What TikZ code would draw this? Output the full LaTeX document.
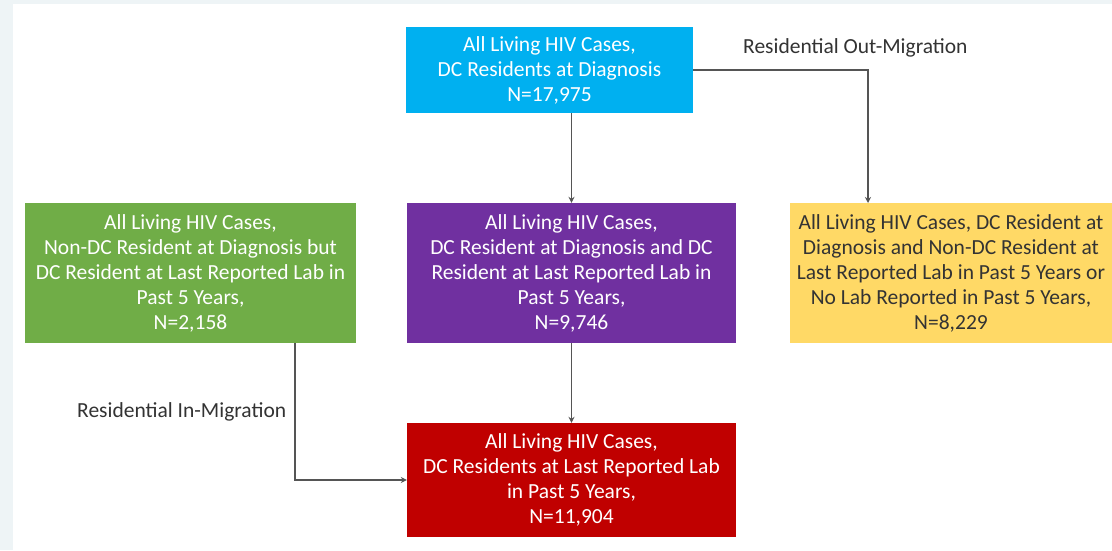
\documentclass[tikz,border=0pt]{standalone}
\usepackage{fontspec}
\setmainfont{Carlito}
\usetikzlibrary{arrows.meta}
\definecolor{cblue}{HTML}{00B0F0}
\definecolor{cgreen}{HTML}{70AD47}
\definecolor{cpurple}{HTML}{7030A0}
\definecolor{cyellow}{HTML}{FFD966}
\definecolor{cred}{HTML}{C00000}
\definecolor{ctext}{HTML}{333333}
\definecolor{cline}{HTML}{555555}
\definecolor{cbg}{HTML}{EEF4F6}
\tikzset{
  box/.style={rectangle, inner sep=0pt, align=center, text=white,
    font=\fontsize{21.5}{25}\selectfont},
  lbl/.style={inner sep=0pt, text=ctext, font=\fontsize{21.5}{25}\selectfont},
  conn/.style={draw=cline, line width=1.1pt, -{Stealth[length=6pt,width=6pt]}}
}
\begin{document}
\begin{tikzpicture}[x=1pt,y=-1pt]
\useasboundingbox (0,0) rectangle (1112,550);
\fill[white] (0,0) rectangle (1112,550);
\fill[cbg] (0,0) rectangle (13,550);
\fill[cbg] (0,0) rectangle (1112,4);

\node[box, fill=cblue, minimum width=287pt, minimum height=86pt] (blue) at (549.5,70)
  {All Living HIV Cases,\\DC Residents at Diagnosis\\N=17,975};
\node[box, fill=cpurple, minimum width=329pt, minimum height=140pt] (purple) at (571.5,273)
  {All Living HIV Cases,\\DC Resident at Diagnosis and DC\\Resident at Last Reported Lab in\\Past 5 Years,\\N=9,746};
\node[box, fill=cgreen, minimum width=331pt, minimum height=140pt] (green) at (190.5,273)
  {All Living HIV Cases,\\Non-DC Resident at Diagnosis but\\DC Resident at Last Reported Lab in\\Past 5 Years,\\N=2,158};
\node[box, fill=cyellow, text=ctext, minimum width=322pt, minimum height=140pt] (yellow) at (951,273)
  {All Living HIV Cases, DC Resident at\\Diagnosis and Non-DC Resident at\\Last Reported Lab in Past 5 Years or\\No Lab Reported in Past 5 Years,\\N=8,229};
\node[box, fill=cred, minimum width=329pt, minimum height=114pt] (red) at (571.5,480)
  {All Living HIV Cases,\\DC Residents at Last Reported Lab\\in Past 5 Years,\\N=11,904};

\node[lbl, anchor=west] (outlbl) at (743,48) {Residential Out-Migration};
\node[lbl, anchor=west] (inlbl) at (77,412) {Residential In-Migration};

\coordinate (yin) at (868,203);
\coordinate (gout) at (295,343);

\draw[conn] (purple.north |- blue.south) -- (purple.north);
\draw[conn] (blue.east) -| (yin);
\draw[conn] (purple.south) -- (red.north);
\draw[conn] (gout) |- (red.west);
\end{tikzpicture}
\end{document}
